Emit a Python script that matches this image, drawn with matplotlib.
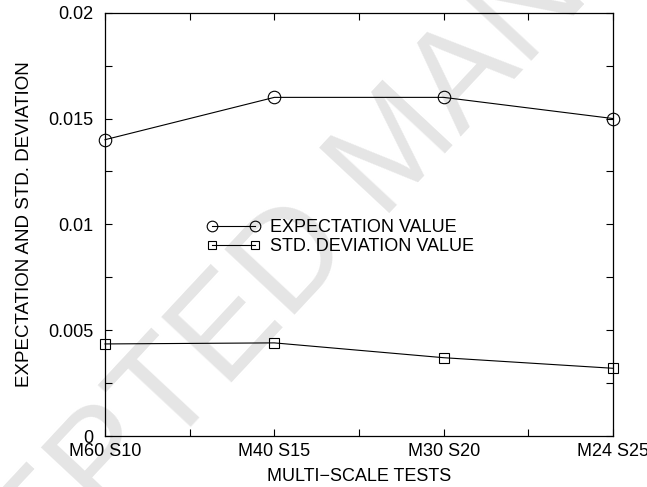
import numpy as np
import matplotlib
matplotlib.use('Agg')
import matplotlib.pyplot as plt
from matplotlib.ticker import FixedLocator, FixedFormatter, AutoMinorLocator

plt.rcParams['font.family'] = ['Liberation Sans', 'DejaVu Sans']

tests = ['M60 S10', 'M40 S15', 'M30 S20', 'M24 S25']
expectation = [0.014, 0.016, 0.016, 0.015]
std_dev = [0.00435, 0.0044, 0.0037, 0.0032]
y_ticks = [0, 0.005, 0.01, 0.015, 0.02]
y_tick_labels = ['0', '0.005', '0.01', '0.015', '0.02']

fig = plt.figure(figsize=(6.47, 4.87), dpi=100)
ax = fig.add_axes([0.1623, 0.1047, 0.7851, 0.8692])
ax.set_facecolor('none')

# watermark behind the plot
fig.text(0.615, 0.69, 'ACCEPTED MANUSCRIPT', fontsize=100, color='#e5e5e5',
         rotation=47, ha='center', va='center', zorder=-1)

x = np.arange(len(tests))
ax.plot(x, expectation, color='black', linewidth=0.8, marker='o', markersize=9,
        markerfacecolor='none', markeredgewidth=0.8, label='EXPECTATION VALUE', clip_on=False)
ax.plot(x, std_dev, color='black', linewidth=0.8, marker='s', markersize=7.5,
        markerfacecolor='none', markeredgewidth=0.8, label='STD. DEVIATION VALUE', clip_on=False)

ax.set_xlim(0, len(tests) - 1)
ax.set_ylim(0, 0.02)
ax.xaxis.set_major_locator(FixedLocator(x))
ax.xaxis.set_major_formatter(FixedFormatter(tests))
ax.xaxis.set_minor_locator(AutoMinorLocator(2))
ax.yaxis.set_major_locator(FixedLocator(y_ticks))
ax.yaxis.set_major_formatter(FixedFormatter(y_tick_labels))
ax.yaxis.set_minor_locator(AutoMinorLocator(2))
ax.tick_params(which='both', direction='in', top=True, right=True, length=5, width=0.8,
               labelsize=13)
ax.tick_params(axis='y', pad=8.5)
ax.tick_params(axis='x', pad=5)
for s in ax.spines.values():
    s.set_linewidth(0.9)

ax.set_xlabel('MULTI\u2212SCALE TESTS', fontsize=13, labelpad=5.5)
ax.set_ylabel('EXPECTATION AND STD. DEVIATION', fontsize=13.5, labelpad=11)

leg = ax.legend(loc='upper left', bbox_to_anchor=(0.2, 0.513), frameon=False, numpoints=2,
                fontsize=13, handlelength=3.0, handletextpad=0.53, labelspacing=0.13,
                borderpad=0, borderaxespad=0, markerscale=0.85)

fig.savefig('out.png', dpi=100)
